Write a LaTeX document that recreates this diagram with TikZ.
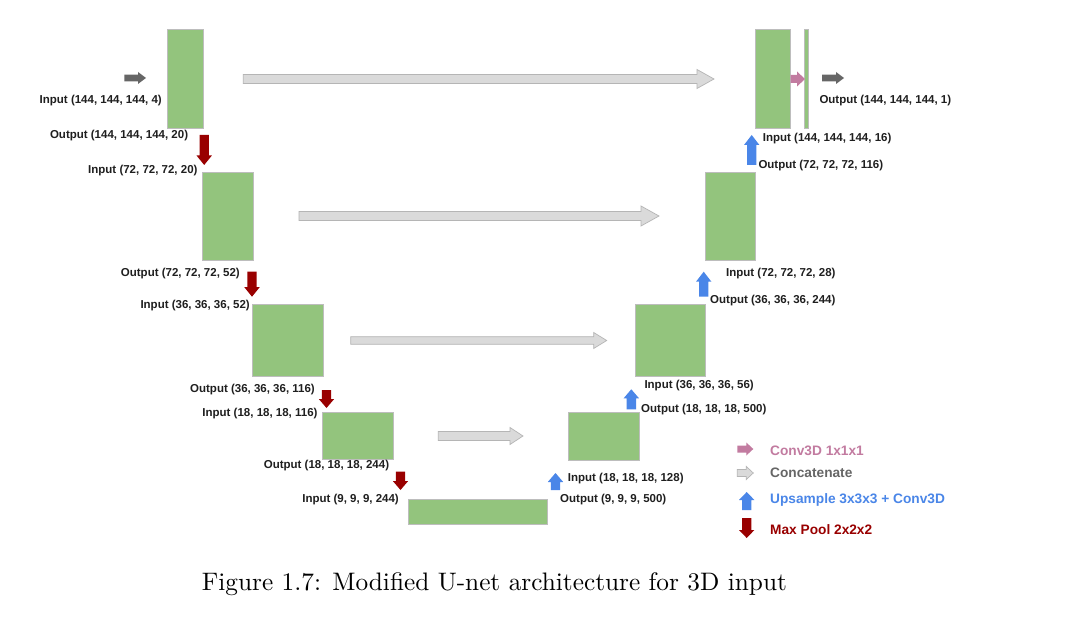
\documentclass[tikz,border=0pt]{standalone}
\usepackage{fontspec}
\newfontfamily\labfont{Liberation Sans}
\newfontfamily\capfont{lmroman10-regular}[Extension=.otf]
\definecolor{blockgreen}{HTML}{93C47D}
\definecolor{blockedge}{HTML}{BDBDBD}
\definecolor{skipfill}{HTML}{DADADA}
\definecolor{skipedge}{HTML}{B5B5B5}
\definecolor{iogray}{HTML}{666666}
\definecolor{convpink}{HTML}{C27BA0}
\definecolor{upblue}{HTML}{4A86E8}
\definecolor{poolred}{HTML}{990000}
\tikzset{
  blk/.style={fill=blockgreen, draw=blockedge, line width=0.8pt, anchor=north west, inner sep=0pt, outer sep=0pt},
  lab/.style={font=\labfont\bfseries\fontsize{11.5}{13}\selectfont, inner sep=0pt, text=black!88},
  legtxt/.style={font=\labfont\bfseries\fontsize{13.7}{15}\selectfont, inner sep=0pt, anchor=west},
  skiparrow/.style={fill=skipfill, draw=skipedge, line width=0.7pt},
  ioarrow/.style={fill=iogray},
  convarrow/.style={fill=convpink},
  uparrowsty/.style={fill=upblue},
  poolarrowsty/.style={fill=poolred},
}
% block: name, x, y (top-left), width, height
\newcommand\blockat[5]{\node[blk, minimum width=#4pt, minimum height=#5pt] (#1) at (#2,#3) {};}
% horizontal block arrow: style, x tail, x tip, y centre, shaft half height, head half height, head length
\newcommand\harr[7]{\path[#1] (#2,{#4-#5}) -- ({#3-#7},{#4-#5}) -- ({#3-#7},{#4-#6}) -- (#3,#4)
  -- ({#3-#7},{#4+#6}) -- ({#3-#7},{#4+#5}) -- (#2,{#4+#5}) -- cycle;}
% vertical block arrow: style, x centre, y tail, y tip, head length (sign gives direction)
\newcommand\varr[5]{\path[#1] ({#2-4.7},#3) -- ({#2-4.7},{#4-#5}) -- ({#2-7.7},{#4-#5}) -- (#2,#4)
  -- ({#2+7.7},{#4-#5}) -- ({#2+4.7},{#4-#5}) -- ({#2+4.7},#3) -- cycle;}
\begin{document}
\begin{tikzpicture}[x=1pt,y=-1pt]
\useasboundingbox[fill=white] (0,0) rectangle (1090,620);

% encoder blocks
\blockat{e1}{167}{29.3}{36}{99}
\blockat{e2}{202.3}{172.7}{50.7}{87.3}
\blockat{e3}{252.3}{304.3}{71}{71.7}
\blockat{e4}{322.5}{412.3}{71}{47}
\blockat{bot}{408.3}{499.3}{139.4}{24.7}
% decoder blocks
\blockat{d4}{568.3}{412.3}{70.7}{47.7}
\blockat{d3}{635.7}{304.3}{70}{71.7}
\blockat{d2}{705.7}{172.7}{50}{87.3}
\blockat{d1}{755.7}{29.3}{35}{99}
\blockat{outb}{804}{29.3}{4.7}{99}

% skip connections (concatenate)
\harr{skiparrow}{243.3}{714}{79}{4.5}{9.5}{17}
\harr{skiparrow}{299}{659}{216}{4.5}{10}{18}
\harr{skiparrow}{350.7}{606.7}{340.5}{3.8}{8}{13}
\harr{skiparrow}{438.3}{523}{436}{4.5}{8.5}{13}

% input / output / 1x1x1 arrows
\harr{ioarrow}{124.3}{146}{78}{3.3}{6}{8}
\harr{ioarrow}{822}{844}{78}{3.3}{6}{8}
\harr{convarrow}{790.7}{805}{79}{4}{7.5}{8}

% max pool arrows
\varr{poolarrowsty}{204.2}{135}{165}{9.5}
\varr{poolarrowsty}{252}{271.7}{296.7}{9.5}
\varr{poolarrowsty}{326.5}{390}{408}{9}
\varr{poolarrowsty}{400.5}{471.7}{490}{9}
% upsample arrows
\varr{uparrowsty}{751.7}{165}{135}{-10}
\varr{uparrowsty}{703.7}{296.7}{271.7}{-10}
\varr{uparrowsty}{631.3}{409.3}{389.3}{-9}
\varr{uparrowsty}{555.5}{490}{473}{-9}

% encoder labels
\node[lab, anchor=east] (l1) at (162,101) {Input (144, 144, 144, 4)};
\node[lab, anchor=east] (l2) at (188.3,136) {Output (144, 144, 144, 20)};
\node[lab, anchor=east] (l3) at (197.7,171) {Input (72, 72, 72, 20)};
\node[lab, anchor=east] (l4) at (240,273.3) {Output (72, 72, 72, 52)};
\node[lab, anchor=east] (l5) at (250,305.7) {Input (36, 36, 36, 52)};
\node[lab, anchor=east] (l6) at (315,390) {Output (36, 36, 36, 116)};
\node[lab, anchor=east] (l7) at (317.7,413.3) {Input (18, 18, 18, 116)};
\node[lab, anchor=east] (l8) at (389.3,465.7) {Output (18, 18, 18, 244)};
\node[lab, anchor=east] (l9) at (399,500) {Input (9, 9, 9, 244)};
% decoder labels
\node[lab, anchor=west] (r1) at (567.7,478.3) {Input (18, 18, 18, 128)};
\node[lab, anchor=west] (r2) at (560,500) {Output (9, 9, 9, 500)};
\node[lab, anchor=west] (r3) at (641,409.3) {Output (18, 18, 18, 500)};
\node[lab, anchor=west] (r4) at (644.3,386) {Input (36, 36, 36, 56)};
\node[lab, anchor=west] (r5) at (710,301) {Output (36, 36, 36, 244)};
\node[lab, anchor=west] (r6) at (726,274) {Input (72, 72, 72, 28)};
\node[lab, anchor=west] (r7) at (758.3,165.7) {Output (72, 72, 72, 116)};
\node[lab, anchor=west] (r8) at (762.7,138.3) {Input (144, 144, 144, 16)};
\node[lab, anchor=west] (r9) at (819.3,100.7) {Output (144, 144, 144, 1)};

% legend
\harr{convarrow}{737.3}{753.3}{449}{3.5}{6.5}{7}
\harr{skiparrow}{737.3}{753.3}{473}{3.5}{6.5}{7}
\varr{uparrowsty}{746.7}{510}{492}{-8}
\varr{poolarrowsty}{746.7}{518}{538}{8}
\node[legtxt, text=convpink] (g1) at (770,450.7) {Conv3D 1x1x1};
\node[legtxt, text=iogray] (g2) at (770,473) {Concatenate};
\node[legtxt, text=upblue] (g3) at (770,500) {Upsample 3x3x3 + Conv3D};
\node[legtxt, text=poolred] (g4) at (770,529.3) {Max Pool 2x2x2};

% caption
\node[anchor=base west, inner sep=0pt, font=\capfont\fontsize{25.3}{30}\selectfont] (cap) at (201.7,590) {Figure 1.7: Modified U-net architecture for 3D input};
\end{tikzpicture}
\end{document}
